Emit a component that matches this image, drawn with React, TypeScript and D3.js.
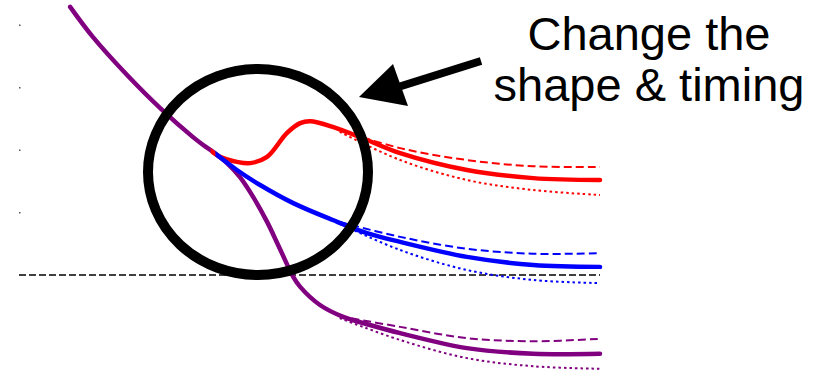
import React from 'react';
import * as d3 from 'd3';

// shared early response (time in arbitrary units, response value)
const trunkT = [0.88, 1.27, 1.86, 2.43, 2.99, 3.17];
const trunkV = [4.29, 3.81, 3.2, 2.67, 2.21, 2.08];

// branches after the split
const purpleT = [3.34, 3.58, 3.8, 4.03, 4.27, 4.49, 4.72, 4.84, 5.18, 5.58, 6.04, 6.56, 7.71, 8.85, 10];
const purpleV = [1.97, 1.79, 1.57, 1.25, 0.85, 0.42, -0.03, -0.19, -0.48, -0.67, -0.8, -0.93, -1.17, -1.26, -1.26];

const blueT = [3.34, 3.75, 4.15, 4.72, 5.4, 5.99, 6.56, 7.71, 8.85, 10];
const blueV = [1.97, 1.68, 1.44, 1.15, 0.88, 0.67, 0.53, 0.29, 0.16, 0.13];

const redT = [3.46, 3.75, 3.98, 4.27, 4.61, 4.84, 5.01, 5.4, 5.99, 6.56, 7.71, 8.85, 10];
const redV = [1.89, 1.81, 1.79, 1.89, 2.27, 2.43, 2.46, 2.37, 2.16, 1.95, 1.68, 1.55, 1.52];

// where each branch leaves the trunk
const redSplit = 3.3;
const blueSplit = 3.38;

// upper (dashed) and lower (dotted) bounds
const boundT = [5.52, 6.56, 7.71, 8.85, 10];
const redHi = [2.32, 2.03, 1.84, 1.74, 1.73];
const redLo = [2.29, 1.84, 1.52, 1.36, 1.28];
const blueHi = [0.85, 0.61, 0.42, 0.34, 0.35];
const blueLo = [0.82, 0.4, 0.08, -0.08, -0.13];
const purpleHi = [-0.66, -0.83, -1.01, -1.06, -1.02];
const purpleLo = [-0.69, -1.04, -1.33, -1.46, -1.5];

const yTicks = [0, 1, 2, 3, 4];
const labelLines = ['Change the', 'shape & timing'];

const W = 827;
const H = 371;

const x = d3.scaleLinear().domain([0, 10]).range([19, 600]);
const y = d3.scaleLinear().domain([0, 4]).range([275, 25]);

const line = d3
  .line<[number, number]>()
  .x(d => x(d[0]))
  .y(d => y(d[1]))
  .curve(d3.curveCatmullRom.alpha(0.5));

const zip = (t: number[], v: number[]) => t.map((d, i) => [d, v[i]] as [number, number]);

const PURPLE = '#800080';
const RED = '#ff0000';
const BLUE = '#0000ff';

export default function App() {
  const bands = [
    { c: RED, hi: redHi, lo: redLo },
    { c: BLUE, hi: blueHi, lo: blueLo },
    { c: PURPLE, hi: purpleHi, lo: purpleLo },
  ];
  const branches = [
    { id: 'red', c: RED, t: redT, v: redV, split: redSplit },
    { id: 'blue', c: BLUE, t: blueT, v: blueV, split: blueSplit },
  ];

  return (
    <div style={{ position: 'absolute', left: 0, top: 0 }}>
      <svg width={W} height={H} style={{ display: 'block', background: '#fff' }}>
        <defs>
          {branches.map(b => (
            <clipPath key={b.id} id={`clip-${b.id}`}>
              <rect x={x(b.split)} y={0} width={W} height={H} />
            </clipPath>
          ))}
        </defs>

        {/* tiny y ticks */}
        {yTicks.slice(1).map(t => (
          <rect key={t} x={19} y={y(t) - 0.5} width={1.5} height={1.5} fill="#555" />
        ))}
        {/* zero line */}
        <line
          x1={x(0)}
          x2={x(10)}
          y1={y(0)}
          y2={y(0)}
          stroke="#000"
          strokeWidth={1.5}
          strokeDasharray="7,3"
        />

        {bands.map(b => (
          <g key={b.c} fill="none" stroke={b.c} strokeWidth={2}>
            <path d={line(zip(boundT, b.hi)) || ''} strokeDasharray="8,4" />
            <path d={line(zip(boundT, b.lo)) || ''} strokeDasharray="2.5,3" />
          </g>
        ))}

        <path
          d={line(zip(trunkT.concat(purpleT), trunkV.concat(purpleV))) || ''}
          fill="none"
          stroke={PURPLE}
          strokeWidth={4.5}
          strokeLinecap="round"
        />
        {branches.map(b => (
          <path
            key={b.id}
            d={line(zip(trunkT.concat(b.t), trunkV.concat(b.v))) || ''}
            fill="none"
            stroke={b.c}
            strokeWidth={4.5}
            strokeLinecap="round"
            clipPath={`url(#clip-${b.id})`}
          />
        ))}

        {/* annotation */}
        <ellipse cx={258} cy={172} rx={110} ry={103} fill="none" stroke="#000" strokeWidth={10} />
        <line x1={481} y1={61} x2={395} y2={88} stroke="#000" strokeWidth={8} />
        <polygon points="359,97 393,64 408,106" fill="#000" />
        <text
          x={649}
          y={50}
          textAnchor="middle"
          fontFamily="'Liberation Sans', Arial, sans-serif"
          fontSize={47}
          fill="#000"
        >
          {labelLines.map((l, i) => (
            <tspan key={i} x={649} dy={i === 0 ? 0 : 51}>
              {l}
            </tspan>
          ))}
        </text>
      </svg>
    </div>
  );
}
